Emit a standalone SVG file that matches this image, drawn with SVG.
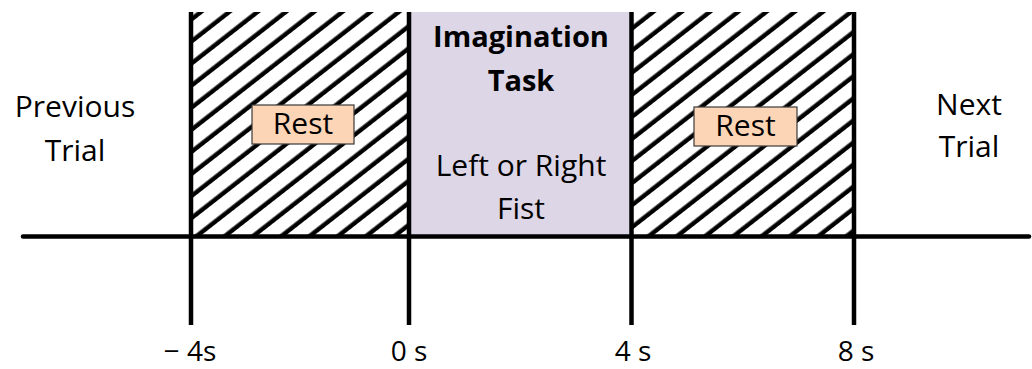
<svg xmlns="http://www.w3.org/2000/svg" width="1032" height="369" viewBox="0 0 1032 369">
  <style>
    .t { font-family: "Open Sans", "Liberation Sans", sans-serif; font-size: 30px; fill: #000; text-anchor: middle; }
    .b { font-weight: bold; font-size: 29px; }
    .tick { font-size: 28px; }
    .ln { stroke: #000; stroke-width: 4.5; fill: none; }
    .rest { fill: #FBD5B5; stroke: #3a3a3a; stroke-width: 1.2; }
  </style>
  <defs>
    <pattern id="hatch" patternUnits="userSpaceOnUse" width="40" height="17.4" patternTransform="rotate(-38)">
      <rect x="0" y="9.1" width="40" height="4.4" fill="#000"/>
    </pattern>
  </defs>
  <rect width="1032" height="369" fill="#fff"/>

  <g id="rest-before">
    <rect x="191" y="12" width="218" height="225" fill="url(#hatch)"/>
    <rect class="rest" x="252" y="105" width="102" height="39"/>
    <text class="t" x="303" y="134">Rest</text>
  </g>

  <g id="imagination-task">
    <rect x="409" y="12" width="222.5" height="225" fill="#DCD6E6"/>
    <text class="t b" x="521" y="47">Imagination</text>
    <text class="t b" x="521" y="91">Task</text>
    <text class="t" x="521" y="176">Left or Right</text>
    <text class="t" x="521" y="219">Fist</text>
  </g>

  <g id="rest-after">
    <rect x="631.5" y="12" width="222.5" height="225" fill="url(#hatch)"/>
    <rect class="rest" x="694" y="107" width="103" height="39"/>
    <text class="t" x="745.5" y="136">Rest</text>
  </g>

  <g id="previous-trial">
    <text class="t" x="75" y="117">Previous</text>
    <text class="t" x="75" y="161">Trial</text>
  </g>

  <g id="next-trial">
    <text class="t" x="969" y="115">Next</text>
    <text class="t" x="969" y="157">Trial</text>
  </g>

  <g id="connectors">
    <line class="ln" x1="23" y1="236.5" x2="1029" y2="236.5" stroke-width="5" stroke-linecap="round"/>
    <line class="ln" x1="191" y1="12" x2="191" y2="325"/>
    <line class="ln" x1="409" y1="12" x2="409" y2="325"/>
    <line class="ln" x1="631.5" y1="12" x2="631.5" y2="325"/>
    <line class="ln" x1="854" y1="12" x2="854" y2="325"/>
  </g>

  <g id="tick-labels">
    <text class="t tick" x="190" y="361">− 4s</text>
    <text class="t tick" x="409" y="361">0 s</text>
    <text class="t tick" x="633" y="361">4 s</text>
    <text class="t tick" x="856" y="361">8 s</text>
  </g>
</svg>
